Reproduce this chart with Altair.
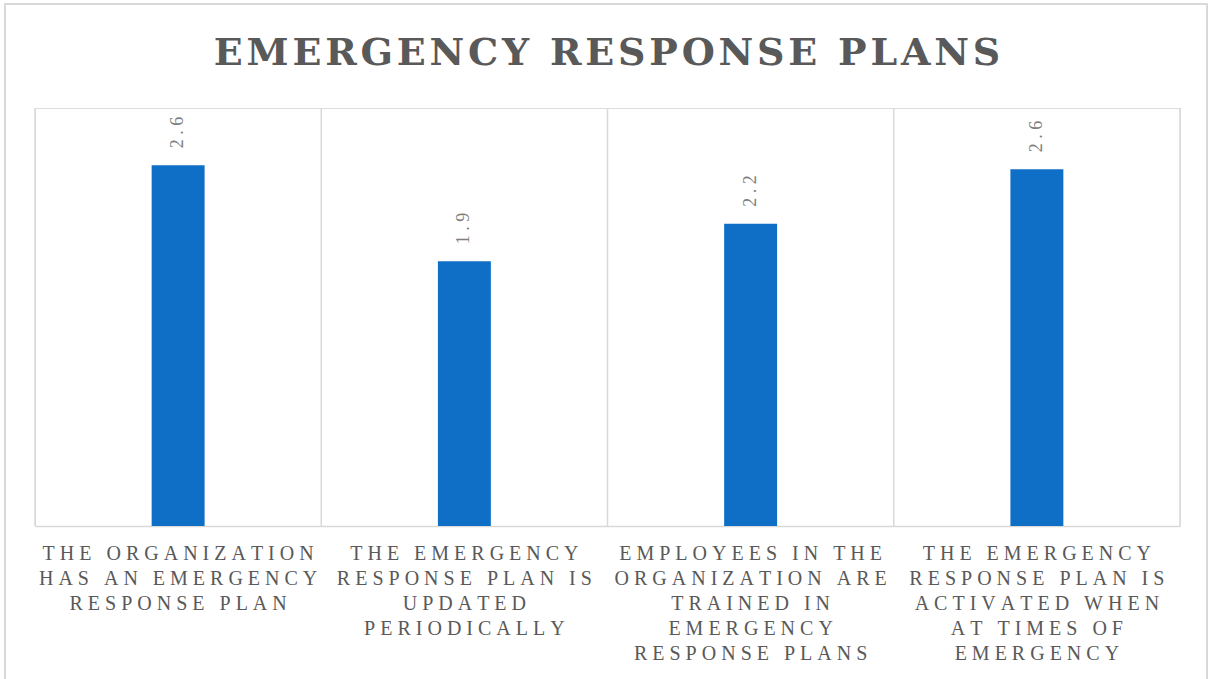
import altair as alt
import pandas as pd

categories = [
    "THE ORGANIZATION\nHAS AN EMERGENCY\nRESPONSE PLAN",
    "THE EMERGENCY\nRESPONSE PLAN IS\nUPDATED\nPERIODICALLY",
    "EMPLOYEES IN THE\nORGANIZATION ARE\nTRAINED IN\nEMERGENCY\nRESPONSE PLANS",
    "THE EMERGENCY\nRESPONSE PLAN IS\nACTIVATED WHEN\nAT TIMES OF\nEMERGENCY",
]
values = [2.59, 1.90, 2.17, 2.56]
title_text = "EMERGENCY RESPONSE PLANS"

SP = "\u2005"


def spaced(s, sp=SP):
    return "\n".join(sp.join(list(line)) for line in s.split("\n"))


df = pd.DataFrame({
    "cat": [spaced(c) for c in categories],
    "value": values,
})
df["label"] = df["value"].map(lambda v: spaced(f"{v:.1f}"))
order = list(df["cat"])

W, H = 1145, 418

base = alt.Chart(df)

x_enc = alt.X(
    "cat:N",
    sort=order,
    scale=alt.Scale(paddingInner=0.815, paddingOuter=0.4075),
    axis=alt.Axis(
        title=None,
        labelAngle=0,
        labelExpr="split(datum.label, '\\n')",
        labelFont="Liberation Serif",
        labelFontSize=20,
        labelColor="#595959",
        labelLineHeight=25,
        labelPadding=17,
        labelLimit=0,
        labelBaseline="top",
        ticks=False,
        domain=True,
        domainColor="#d9d9d9",
        domainWidth=1.5,
        grid=False,
    ),
)

bars = base.mark_bar(color="#0F6FC6").encode(
    x=x_enc,
    y=alt.Y("value:Q", scale=alt.Scale(domain=[0, 3]), axis=None),
)

text = base.mark_text(
    angle=270,
    align="left",
    baseline="middle",
    dx=17,
    font="Liberation Serif",
    fontSize=18,
    color="#7f7f7f",
).encode(
    x=alt.X("cat:N", sort=order),
    y="value:Q",
    text="label:N",
)

main = alt.layer(bars, text)

# vertical separators between categories (band edges)
sep_df = pd.DataFrame({"i": [0, 1, 2, 3, 4]})
seps = alt.Chart(sep_df).mark_rule(color="#d9d9d9", strokeWidth=1.5).encode(
    x=alt.X("i:Q", scale=alt.Scale(domain=[0, 4], nice=False, zero=False), axis=None),
    y=alt.value(0),
    y2=alt.value(H),
)

frame = alt.Chart(sep_df.head(1)).mark_rect(
    fill=None, stroke="#d9d9d9", strokeWidth=2, clip=False
).encode(
    x=alt.value(-30), x2=alt.value(1172), y=alt.value(-104), y2=alt.value(700)
)

title_df = pd.DataFrame({"t": [spaced(title_text, "\u200a")]})
title = alt.Chart(title_df).mark_text(
    font="DejaVu Serif",
    fontSize=38,
    fontWeight="bold",
    color="#595959",
    align="center",
    baseline="alphabetic",
).encode(
    x=alt.value(572),
    y=alt.value(-43),
    text="t:N",
)

chart = (
    alt.layer(frame, seps, main, title)
    .resolve_scale(x="independent")
    .properties(
        width=W,
        height=H,
        autosize=alt.AutoSizeParams(type="none"),
        padding={"left": 35, "top": 108, "right": 29, "bottom": 153},
    )
    .configure_view(stroke=None)
    .configure(background="white")
)

chart.save("out.html", embed_options={"renderer": "svg", "actions": False})
